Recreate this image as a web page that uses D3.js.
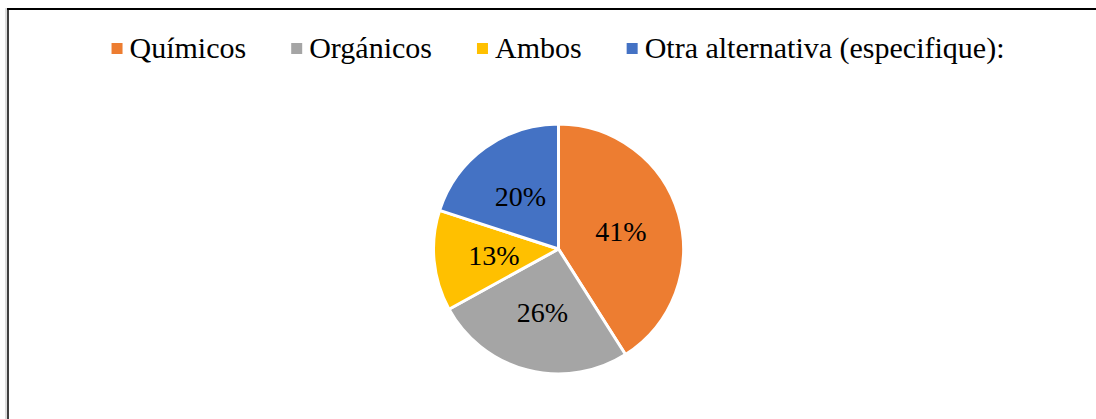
<!DOCTYPE html>
<html><head><meta charset="utf-8">
<script src="https://cdn.jsdelivr.net/npm/d3@7"></script>
</head><body style="margin:0">
<script>
const categories = ["Químicos", "Orgánicos", "Ambos", "Otra alternativa (especifique):"];
const values = [41, 26, 13, 20];
const labels = ["41%", "26%", "13%", "20%"];
const colors = ["#ED7D31", "#A5A5A5", "#FFC000", "#4472C4"];

const W = 1096, H = 419;
const font = "Liberation Serif";
const svg = d3.select("body").append("svg").attr("width", W).attr("height", H)
  .style("display", "block").style("font-family", font);
svg.append("rect").attr("width", W).attr("height", H).attr("fill", "#fff");
// border
svg.append("line").attr("x1", 7).attr("x2", W).attr("y1", 9).attr("y2", 9).attr("stroke", "#000").attr("stroke-width", 2);
svg.append("line").attr("x1", 8).attr("x2", 8).attr("y1", 8).attr("y2", H).attr("stroke", "#000").attr("stroke-width", 1.5);
svg.append("line").attr("x1", 6).attr("x2", 6).attr("y1", 8).attr("y2", H).attr("stroke", "#bbb").attr("stroke-width", 1);

// legend
const lg = svg.append("g");
const items = lg.selectAll("g").data(categories).join("g");
items.append("rect").attr("width", 11).attr("height", 11).attr("y", 43).attr("fill", (d, i) => colors[i]);
items.append("text").attr("x", 18).attr("y", 58).text(d => d)
  .style("font-family", font).attr("font-size", 30).attr("fill", "#000");
let x = 0; const gap = 45;
items.each(function(d, i) {
  const w = d3.select(this).select("text").node().getComputedTextLength();
  d3.select(this).attr("transform", `translate(${x},0)`);
  x += 18 + w + gap;
});
const total = x - gap;
lg.attr("transform", `translate(${558 - total / 2},0)`);

// pie
const cx = 558.5, cy = 249, R = 125;
const pie = d3.pie().sort(null).value(d => d)(values);
const arc = d3.arc().innerRadius(0).outerRadius(R);
const labArc = d3.arc().innerRadius(R * 0.52).outerRadius(R * 0.52);
const g = svg.append("g").attr("transform", `translate(${cx},${cy})`);
g.selectAll("path").data(pie).join("path").attr("d", arc)
  .attr("fill", (d, i) => colors[i]).attr("stroke", "#fff").attr("stroke-width", 3).attr("stroke-linejoin", "round");
g.selectAll("text").data(pie).join("text")
  .attr("transform", d => `translate(${labArc.centroid(d)})`)
  .attr("text-anchor", "middle").attr("dy", "0.35em")
  .style("font-family", font).attr("font-size", 28).attr("fill", "#000")
  .text((d, i) => labels[i]);
</script>
</body></html>
